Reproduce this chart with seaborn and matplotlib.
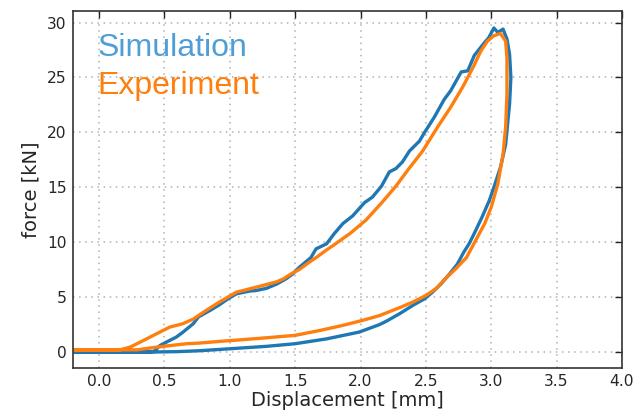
import matplotlib
matplotlib.use("Agg")
import matplotlib.pyplot as plt
import seaborn as sns
import pandas as pd

# Simulation curve (loading then unloading)
sim_x = [-0.2, 0.0, 0.2, 0.42, 0.466, 0.54, 0.59, 0.64, 0.72, 0.76, 0.85, 0.92, 0.98,
         1.05, 1.15, 1.20, 1.28, 1.36, 1.43, 1.48, 1.53, 1.56, 1.62, 1.66, 1.74, 1.80,
         1.865, 1.94, 2.03, 2.09, 2.16, 2.22, 2.27, 2.32, 2.374, 2.45, 2.49, 2.565, 2.64,
         2.69, 2.77, 2.82, 2.87, 2.95, 2.98, 3.02, 3.05, 3.09, 3.12, 3.14, 3.15, 3.14,
         3.11, 3.07, 3.02, 2.985, 2.93, 2.87, 2.83, 2.79, 2.74, 2.68, 2.615, 2.55, 2.49,
         2.40, 2.30, 2.196, 2.145, 1.99, 1.74, 1.50, 1.28, 1.0, 0.77, 0.6, 0.4, 0.0, -0.2]
sim_y = [0.0, 0.0, 0.0, 0.05, 0.6, 1.06, 1.36, 1.8, 2.58, 3.2, 3.8, 4.3, 4.8,
         5.3, 5.55, 5.6, 5.8, 6.2, 6.67, 7.1, 7.7, 8.0, 8.6, 9.4, 9.85, 10.8,
         11.7, 12.4, 13.6, 14.1, 15.1, 16.4, 16.7, 17.3, 18.3, 19.2, 20.0, 21.4, 23.0,
         23.8, 25.5, 25.6, 27.0, 28.2, 28.6, 29.5, 29.1, 29.4, 28.5, 27.1, 25.0, 22.6,
         18.9, 16.8, 15.0, 13.8, 12.3, 10.8, 9.85, 9.1, 8.0, 7.1, 6.2, 5.45, 4.85,
         4.25, 3.5, 2.8, 2.5, 1.82, 1.2, 0.76, 0.52, 0.3, 0.12, 0.04, 0.0, 0.0, 0.0]

# Experiment curve (loading then unloading)
exp_x = [-0.2, 0.0, 0.16, 0.237, 0.34, 0.44, 0.54, 0.64, 0.72, 0.82, 0.92, 1.05, 1.20,
         1.36, 1.41, 1.48, 1.53, 1.61, 1.66, 1.74, 1.79, 1.92, 2.04, 2.17, 2.27, 2.37,
         2.475, 2.59, 2.69, 2.78, 2.86, 2.92, 2.97, 3.02, 3.07, 3.11, 3.12, 3.12, 3.11,
         3.09, 3.05, 3.0, 2.95, 2.88, 2.81, 2.73, 2.65, 2.58, 2.50, 2.40, 2.30, 2.145,
         2.02, 1.865, 1.69, 1.50, 1.28, 1.025, 0.92, 0.77, 0.67, 0.44, 0.29, 0.0, -0.2]
exp_y = [0.2, 0.2, 0.2, 0.45, 1.06, 1.67, 2.27, 2.58, 3.0, 3.8, 4.55, 5.45, 5.9,
         6.4, 6.67, 7.2, 7.5, 8.2, 8.6, 9.3, 9.7, 10.8, 12.0, 13.7, 15.1, 16.7,
         18.3, 20.5, 22.3, 24.1, 25.9, 27.4, 28.3, 28.8, 29.0, 28.3, 26.8, 23.5, 20.5,
         18.0, 15.3, 13.2, 11.7, 10.15, 8.6, 7.6, 6.7, 5.8, 5.15, 4.55, 4.05, 3.32,
         2.9, 2.43, 1.97, 1.52, 1.3, 1.06, 0.97, 0.82, 0.76, 0.45, 0.2, 0.2, 0.2]

series_names = ["Simulation", "Experiment"]
line_colors = ["#1f77b4", "#ff7f0e"]
label_colors = ["#4f9fd6", "#ff7f0e"]
x_ticks = [0.0, 0.5, 1.0, 1.5, 2.0, 2.5, 3.0, 3.5, 4.0]
y_ticks = [0, 5, 10, 15, 20, 25, 30]

sns.set_style("white")
plt.rcParams["font.family"] = ["DejaVu Sans"]

fig = plt.figure(figsize=(6.33, 4.13), dpi=100)
ax = fig.add_axes([0.1153, 0.109, 0.8673, 0.8644])

df_sim = pd.DataFrame({"x": sim_x, "y": sim_y})
df_exp = pd.DataFrame({"x": exp_x, "y": exp_y})

sns.lineplot(data=df_sim, x="x", y="y", sort=False, estimator=None, ax=ax,
             color=line_colors[0], lw=2.4, label=series_names[0])
sns.lineplot(data=df_exp, x="x", y="y", sort=False, estimator=None, ax=ax,
             color=line_colors[1], lw=2.4, label=series_names[1])

ax.set_xlim(-0.2, 4.0)
ax.set_ylim(-1.45, 31.05)
ax.set_xticks(x_ticks)
ax.set_yticks(y_ticks)
ax.set_xticklabels([f"{v:.1f}" for v in x_ticks])
ax.grid(True, linestyle=(0, (1, 3)), color="#b0b0b0", linewidth=1.1)
ax.tick_params(direction="in", top=True, right=True, length=5, width=1,
               labelsize=11.2, color="#222222", pad=4.5)
for s in ax.spines.values():
    s.set_color("#333333")
    s.set_linewidth(1.2)

ax.set_xlabel("Displacement [mm]", fontsize=14, labelpad=1)
ax.set_ylabel("force [kN]", fontsize=14, labelpad=5)

leg = ax.legend(loc="upper left", frameon=False, handlelength=0, handletextpad=0,
                prop={"family": "Liberation Sans", "size": 23},
                borderaxespad=0.3, labelspacing=0.25, bbox_to_anchor=(0.004, 1.0))
for h in leg.legend_handles:
    h.set_visible(False)
for t, c in zip(leg.get_texts(), label_colors):
    t.set_color(c)

fig.savefig("out.png", dpi=100)
